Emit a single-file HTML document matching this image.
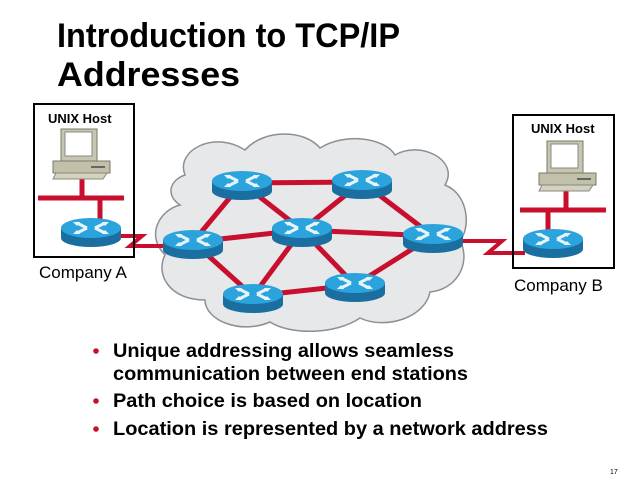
<!DOCTYPE html>
<html><head><style>html,body{margin:0;padding:0;background:#fff}svg{display:block}</style></head><body>
<svg width="640" height="480" viewBox="0 0 640 480" xmlns="http://www.w3.org/2000/svg" font-family="Liberation Sans, Arial, sans-serif">
<defs>
<g id="rt">
 <ellipse cx="0" cy="8" rx="30" ry="9" fill="#1a6fa0"/>
 <rect x="-30" y="-2" width="60" height="10" fill="#1a6fa0"/>
 <ellipse cx="0" cy="-2" rx="30" ry="10" fill="#2ba3dc"/>
 <g stroke="#e6f4fb" stroke-width="3" fill="none">
  <path d="M-14,-7 L-4,-2 M-14,3 L-4,-2 M14,-7 L4,-2 M14,3 L4,-2"/>
 </g>
 <g fill="#e6f4fb"><path d="M-18,-8 l7,0 l-3,4z M18,-8 l-7,0 l3,4z M-18,4 l7,0 l-3,-4z M18,4 l-7,0 l3,-4z"/></g>
</g>
<g id="pc">
 <rect x="8" y="0" width="36" height="32" fill="#c8c6b0" stroke="#7a786a"/>
 <rect x="12" y="3" width="27" height="24" fill="#fff" stroke="#888"/>
 <rect x="0" y="32" width="57" height="12" fill="#c2c0a8" stroke="#7a786a"/>
 <rect x="38" y="37" width="14" height="2" fill="#666"/>
 <path d="M3,44 L54,44 L50,50 L0,50z" fill="#d4d2bc" stroke="#888"/>
</g>
</defs>
<text x="57" y="47" font-size="34" font-weight="bold" textLength="343" lengthAdjust="spacingAndGlyphs">Introduction to TCP/IP</text>
<text x="57" y="86" font-size="34" font-weight="bold" textLength="183" lengthAdjust="spacingAndGlyphs">Addresses</text>

<path d="M185,175 C175,150 215,130 245,150 C265,128 305,130 320,148 C345,132 385,138 395,155 C420,140 460,160 445,185 C470,195 470,230 460,240 C472,265 455,290 430,292 C425,318 385,330 360,318 C335,335 290,335 270,322 C240,335 205,320 205,300 C170,300 155,275 165,255 C145,235 160,210 180,205 C165,195 170,180 185,175z" fill="#e6e8ea" stroke="#8a9096" stroke-width="1.5"/>

<g stroke="#c8102e" stroke-width="5" fill="none">
 <line x1="242" y1="183" x2="362" y2="182"/>
 <line x1="242" y1="183" x2="193" y2="242"/>
 <line x1="242" y1="183" x2="302" y2="230"/>
 <line x1="362" y1="182" x2="302" y2="230"/>
 <line x1="362" y1="182" x2="433" y2="236"/>
 <line x1="193" y1="242" x2="302" y2="230"/>
 <line x1="193" y1="242" x2="253" y2="296"/>
 <line x1="302" y1="230" x2="253" y2="296"/>
 <line x1="302" y1="230" x2="433" y2="236"/>
 <line x1="302" y1="230" x2="355" y2="285"/>
 <line x1="433" y1="236" x2="355" y2="285"/>
 <line x1="253" y1="296" x2="355" y2="285"/>
 <line x1="38" y1="198" x2="124" y2="198"/>
 <line x1="82" y1="178" x2="82" y2="198"/>
 <line x1="100" y1="198" x2="100" y2="220"/>
 <line x1="520" y1="210" x2="606" y2="210"/>
 <line x1="566" y1="190" x2="566" y2="210"/>
 <line x1="548" y1="210" x2="548" y2="230"/>
 <polyline points="118,236 142,236 130,246 165,246" stroke-width="4"/>
 <polyline points="462,241 502,241 488,253 525,253" stroke-width="4"/>
</g>

<rect x="34" y="104" width="100" height="153" fill="none" stroke="#000" stroke-width="2"/>
<rect x="513" y="115" width="101" height="153" fill="none" stroke="#000" stroke-width="2"/>

<use href="#rt" x="91" y="230"/>
<use href="#rt" x="553" y="241"/>
<use href="#rt" x="242" y="183"/>
<use href="#rt" x="362" y="182"/>
<use href="#rt" x="193" y="242"/>
<use href="#rt" x="302" y="230"/>
<use href="#rt" x="433" y="236"/>
<use href="#rt" x="253" y="296"/>
<use href="#rt" x="355" y="285"/>

<use href="#pc" x="53" y="129"/>
<use href="#pc" x="539" y="141"/>

<text x="48" y="123" font-size="13" font-weight="bold">UNIX Host</text>
<text x="531" y="133" font-size="13" font-weight="bold">UNIX Host</text>
<text x="39" y="278" font-size="17">Company A</text>
<text x="514" y="291" font-size="17">Company B</text>

<g fill="#c8102e">
 <circle cx="96" cy="351" r="2.8"/>
 <circle cx="96" cy="401" r="2.8"/>
 <circle cx="96" cy="429" r="2.8"/>
</g>
<g font-size="19" font-weight="bold">
 <text x="113" y="357" textLength="341" lengthAdjust="spacingAndGlyphs">Unique addressing allows seamless</text>
 <text x="113" y="380" textLength="355" lengthAdjust="spacingAndGlyphs">communication between end stations</text>
 <text x="113" y="407" textLength="309" lengthAdjust="spacingAndGlyphs">Path choice is based on location</text>
 <text x="113" y="435" textLength="435" lengthAdjust="spacingAndGlyphs">Location is represented by a network address</text>
</g>
<text x="610" y="474" font-size="7">17</text>
</svg>
</body></html>
